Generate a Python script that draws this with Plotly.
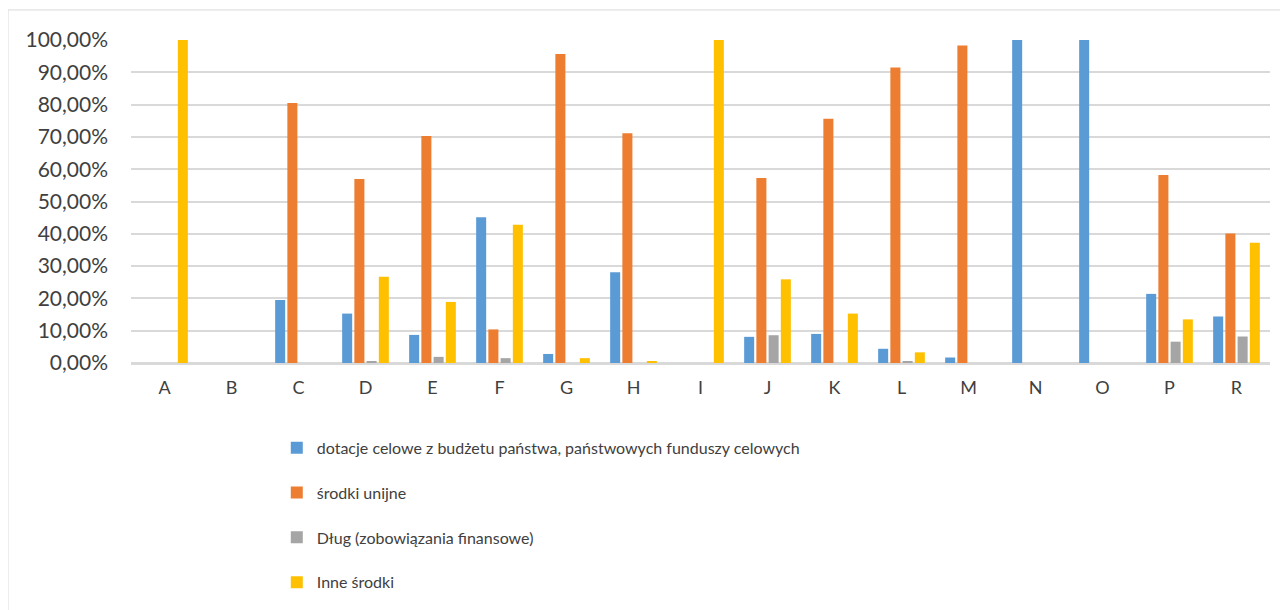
import plotly.graph_objects as go

categories = ["A", "B", "C", "D", "E", "F", "G", "H", "I", "J", "K", "L", "M", "N", "O", "P", "R"]

dotacje = [0, 0, 19.5, 15.3, 8.7, 45.1, 2.8, 28.1, 0, 8.1, 9.0, 4.4, 1.7, 100, 100, 21.4, 14.4]
unijne = [0, 0, 80.5, 57.0, 70.3, 10.4, 95.7, 71.1, 0, 57.3, 75.6, 91.5, 98.3, 0, 0, 58.2, 40.1]
dlug = [0, 0, 0, 0.6, 1.9, 1.5, 0, 0, 0, 8.6, 0, 0.6, 0, 0, 0, 6.6, 8.2]
inne = [100, 0, 0, 26.7, 18.9, 42.8, 1.5, 0.6, 100, 25.9, 15.3, 3.3, 0, 0, 0, 13.5, 37.2]

series_names = [
    "dotacje celowe z budżetu państwa, państwowych funduszy celowych",
    "środki unijne",
    "Dług (zobowiązania finansowe)",
    "Inne środki",
]
series_values = [dotacje, unijne, dlug, inne]
colors = ["#5B9BD5", "#ED7D31", "#A5A5A5", "#FFC000"]

fig = go.Figure()
for i, (name, vals, col) in enumerate(zip(series_names, series_values, colors)):
    fig.add_trace(go.Bar(
        x=categories,
        y=[v / 100 for v in vals],
        name=name,
        legendgroup=f"g{i}",
        marker=dict(color=col, line=dict(width=0)),
        hoverinfo="x+y+name",
    ))

fig.update_layout(
    width=1288,
    height=610,
    paper_bgcolor="white",
    plot_bgcolor="white",
    separators=", ",
    font=dict(family="Lato, Carlito, sans-serif", color="#595959"),
    margin=dict(l=123, r=26, t=32, b=255),
    barmode="group",
    bargap=0.27,
    bargroupgap=0.18,
    xaxis=dict(
        showgrid=False,
        showline=True,
        linecolor="#D9D9D9",
        linewidth=1.5,
        ticks="",
        ticklabelstandoff=8,
        tickfont=dict(size=18, color="#404040"),
    ),
    yaxis=dict(
        range=[0, 1.0],
        dtick=0.1,
        tickformat=".2%",
        showgrid=True,
        gridcolor="#D9D9D9",
        gridwidth=1.5,
        zeroline=True,
        zerolinecolor="#D9D9D9",
        zerolinewidth=1.5,
        showline=False,
        ticks="",
        ticklabelstandoff=22,
        tickfont=dict(size=21, color="#404040"),
    ),
    legend=dict(
        orientation="v",
        x=0.128,
        y=-0.21,
        xanchor="left",
        yanchor="top",
        tracegroupgap=21,
        font=dict(size=16, color="#404040"),
        itemwidth=30,
        traceorder="grouped",
    ),
    showlegend=True,
    shapes=[dict(
        type="rect", xref="paper", yref="paper",
        x0=-0.108, x1=1.2, y0=-2.0, y1=1.093,
        line=dict(color="#D9D9D9", width=1),
        fillcolor="rgba(0,0,0,0)", layer="below",
    )],
)

fig.write_html("out.html")
